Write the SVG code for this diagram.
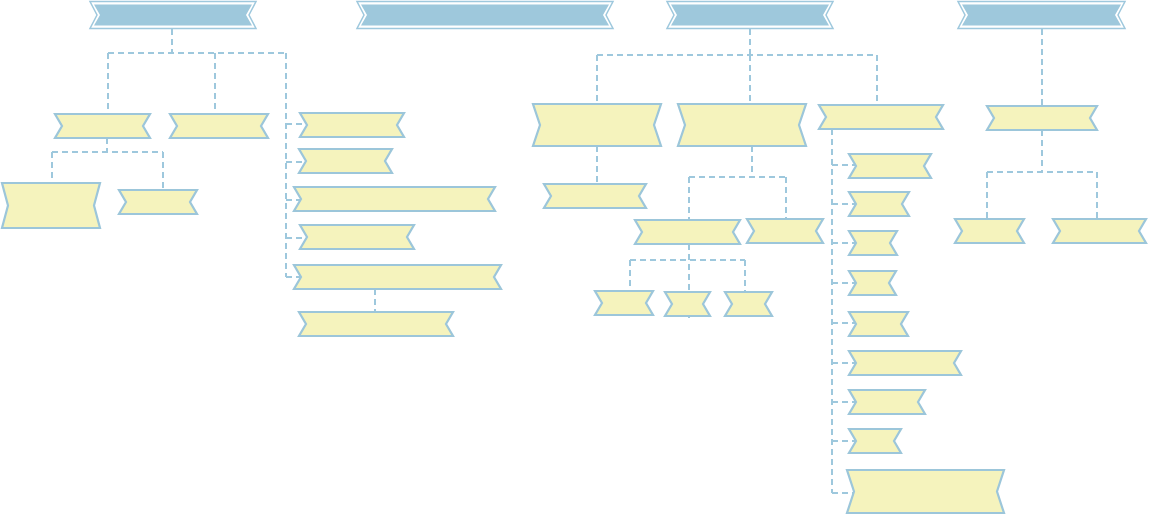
<svg xmlns="http://www.w3.org/2000/svg" width="1149" height="515" viewBox="0 0 1149 515">
<style>
.bg{fill:#ffffff}
.conn{fill:none;stroke:#9ec8dd;stroke-width:2;stroke-dasharray:6 4}
.top-o{fill:#ffffff;stroke:#9ec8dd;stroke-width:1.5}
.top-i{fill:#9ec8dc;stroke:none}
.node{fill:#f5f3bd;stroke:#9cc6da;stroke-width:2.2;stroke-linejoin:miter}
</style>
<rect class="bg" x="0" y="0" width="1149" height="515"/>
<g id="connectors">
<path class="conn" d="M172 29 V53 M108 53 H286 M108 53 V114 M215 53 V114 M286 53 V277 M286 124 H307 M286 162 H306 M286 200 H301 M286 238 H307 M286 277 H301 M107 138 V152 M52 152 H163 M52 152 V183 M163 152 V190 M375 289 V312"/>
<path class="conn" d="M750 29 V55 M597 55 H877 M597 55 V104 M750 55 V104 M877 55 V105 M597 146 V184 M752 146 V177 M689 177 H786 M689 177 V220 M786 177 V219 M689 244 V318 M630 260 H745 M630 260 V291 M745 260 V292 M832 129 V493 M832 165 H856 M832 204 H856 M832 243 H856 M832 283 H856 M832 323 H856 M832 363 H856 M832 402 H856 M832 441 H856 M832 493 H854"/>
<path class="conn" d="M1042 29 V106 M1042 130 V172 M987 172 H1097 M987 172 V219 M1097 172 V219"/>
</g>
<g id="top1"><path class="top-o" d="M90 1.5 H256 L249 15 L256 28.5 H90 L97 15 Z"/><path class="top-i" d="M94 4.5 H252 L246 15 L252 25.5 H94 L100 15 Z"/></g>
<g id="top2"><path class="top-o" d="M357 1.5 H613 L606 15 L613 28.5 H357 L364 15 Z"/><path class="top-i" d="M361 4.5 H609 L603 15 L609 25.5 H361 L367 15 Z"/></g>
<g id="top3"><path class="top-o" d="M667 1.5 H833 L826 15 L833 28.5 H667 L674 15 Z"/><path class="top-i" d="M671 4.5 H829 L823 15 L829 25.5 H671 L677 15 Z"/></g>
<g id="top4"><path class="top-o" d="M958 1.5 H1125 L1118 15 L1125 28.5 H958 L965 15 Z"/><path class="top-i" d="M962 4.5 H1121 L1115 15 L1121 25.5 H962 L968 15 Z"/></g>
<g id="nA"><path class="node" d="M55 114 H150 L143 126 L150 138 H55 L62 126 Z"/></g>
<g id="nB"><path class="node" d="M170 114 H268 L261 126 L268 138 H170 L177 126 Z"/></g>
<g id="nC"><path class="node" d="M2 183 H100 L94 205.5 L100 228 H2 L8 205.5 Z"/></g>
<g id="nD"><path class="node" d="M119 190 H197 L190 202 L197 214 H119 L126 202 Z"/></g>
<g id="nE"><path class="node" d="M300 113 H404 L397 125 L404 137 H300 L307 125 Z"/></g>
<g id="nF"><path class="node" d="M299 149 H392 L385 161 L392 173 H299 L306 161 Z"/></g>
<g id="nG"><path class="node" d="M294 187 H495 L488 199 L495 211 H294 L301 199 Z"/></g>
<g id="nH"><path class="node" d="M300 225 H414 L407 237 L414 249 H300 L307 237 Z"/></g>
<g id="nI"><path class="node" d="M294 265 H501 L494 277 L501 289 H294 L301 277 Z"/></g>
<g id="nJ"><path class="node" d="M299 312 H453 L446 324 L453 336 H299 L306 324 Z"/></g>
<g id="nK"><path class="node" d="M533 104 H661 L654 125 L661 146 H533 L540 125 Z"/></g>
<g id="nL"><path class="node" d="M678 104 H806 L799 125 L806 146 H678 L685 125 Z"/></g>
<g id="nM"><path class="node" d="M819 105 H943 L936 117 L943 129 H819 L826 117 Z"/></g>
<g id="nN"><path class="node" d="M544 184 H646 L639 196 L646 208 H544 L551 196 Z"/></g>
<g id="nO"><path class="node" d="M635 220 H740 L733 232 L740 244 H635 L642 232 Z"/></g>
<g id="nP"><path class="node" d="M747 219 H823 L816 231 L823 243 H747 L754 231 Z"/></g>
<g id="nQ1"><path class="node" d="M595 291 H653 L646 303 L653 315 H595 L602 303 Z"/></g>
<g id="nQ2"><path class="node" d="M665 292 H710 L703 304 L710 316 H665 L672 304 Z"/></g>
<g id="nQ3"><path class="node" d="M725 292 H772 L765 304 L772 316 H725 L732 304 Z"/></g>
<g id="nR1"><path class="node" d="M849 154 H931 L924 166 L931 178 H849 L856 166 Z"/></g>
<g id="nR2"><path class="node" d="M849 192 H909 L902 204 L909 216 H849 L856 204 Z"/></g>
<g id="nR3"><path class="node" d="M849 231 H897 L890 243 L897 255 H849 L856 243 Z"/></g>
<g id="nR4"><path class="node" d="M849 271 H896 L889 283 L896 295 H849 L856 283 Z"/></g>
<g id="nR5"><path class="node" d="M849 312 H908 L901 324 L908 336 H849 L856 324 Z"/></g>
<g id="nR6"><path class="node" d="M849 351 H961 L954 363 L961 375 H849 L856 363 Z"/></g>
<g id="nR7"><path class="node" d="M849 390 H925 L918 402 L925 414 H849 L856 402 Z"/></g>
<g id="nR8"><path class="node" d="M849 429 H901 L894 441 L901 453 H849 L856 441 Z"/></g>
<g id="nR9"><path class="node" d="M847 470 H1004 L997 491.5 L1004 513 H847 L854 491.5 Z"/></g>
<g id="nS"><path class="node" d="M987 106 H1097 L1090 118 L1097 130 H987 L994 118 Z"/></g>
<g id="nT1"><path class="node" d="M955 219 H1024 L1017 231 L1024 243 H955 L962 231 Z"/></g>
<g id="nT2"><path class="node" d="M1053 219 H1146 L1139 231 L1146 243 H1053 L1060 231 Z"/></g>
</svg>
